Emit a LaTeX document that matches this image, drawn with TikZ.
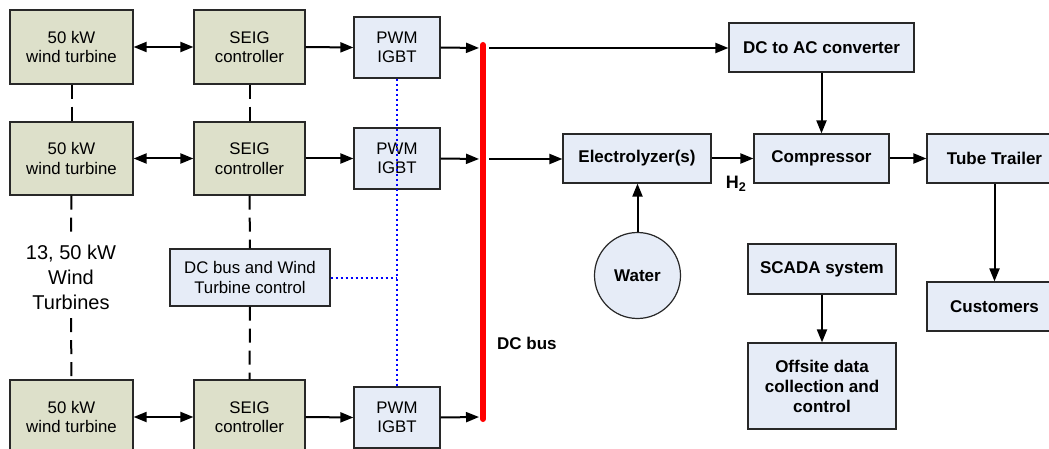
\documentclass[tikz,border=0pt]{standalone}
\usepackage{fontspec}
\setmainfont{Liberation Sans}
\usetikzlibrary{arrows.meta}
\definecolor{olivefill}{RGB}{221,224,202}
\definecolor{bluefill}{RGB}{230,236,247}
\definecolor{edge}{RGB}{40,40,40}
\begin{document}
\begin{tikzpicture}[x=1pt,y=-1pt,
  box/.style={draw=edge,line width=1.2pt,align=center,inner sep=0pt,
    font=\fontsize{16.8}{19.5}\selectfont},
  gbox/.style={box,fill=olivefill,minimum width=123pt,minimum height=74pt},
  sbox/.style={box,fill=olivefill,minimum width=111pt,minimum height=74pt},
  pbox/.style={box,fill=bluefill,minimum width=86pt,minimum height=61pt},
  bbox/.style={box,fill=bluefill,font=\fontsize{17}{20}\selectfont\bfseries},
  arr/.style={line width=2pt,-{Triangle[length=13pt,width=10pt]}},
  darr/.style={line width=2pt,{Triangle[length=13pt,width=10pt]}-{Triangle[length=13pt,width=10pt]}},
  dashline/.style={line width=2pt,dash pattern=on 14pt off 8pt},
  dotline/.style={line width=2pt,draw=blue,dash pattern=on 2pt off 3pt},
  busline/.style={line width=6pt,red,line cap=round}]
\clip (0,0) rectangle (1049,449);
\fill[white] (0,0) rectangle (1049,449);

% turbines
\node[gbox] (t1) at (71.5,47) {50 kW\\wind turbine};
\node[gbox,minimum height=73pt] (t2) at (71.5,158.5) {50 kW\\wind turbine};
\node[gbox] (t3) at (71.5,417) {50 kW\\wind turbine};
% SEIG
\node[sbox] (s1) at (249.5,47) {SEIG\\controller};
\node[sbox,minimum height=73pt] (s2) at (249.5,158.5) {SEIG\\controller};
\node[sbox] (s3) at (249.5,417) {SEIG\\controller};
% PWM
\node[pbox] (p1) at (397,47.5) {PWM\\IGBT};
\node[pbox] (p2) at (397,158.5) {PWM\\IGBT};
\node[pbox] (p3) at (397,417.5) {PWM\\IGBT};
% control
\node[box,fill=bluefill,minimum width=160pt,minimum height=57pt,
  font=\fontsize{16.8}{20}\selectfont] (ctrl) at (250,277.5) {DC bus and Wind\\Turbine control};
% label
\node[align=center,inner sep=0pt,minimum height=82pt,
  font=\fontsize{20}{25}\selectfont] (wtl) at (71,277) {13, 50 kW\\Wind\\Turbines};

% bus
\coordinate (busTop) at (483,45);
\coordinate (busBot) at (483,419);
\draw[busline] (busTop) -- (busBot);
\coordinate (b1) at (479,48);
\coordinate (b2) at (479,159);
\coordinate (b3) at (479,417);
\coordinate (r1) at (489,48);
\coordinate (r2) at (489,159);
\node[anchor=west,inner sep=0pt,font=\fontsize{17}{20}\selectfont\bfseries] (dcl) at (497,343) {DC bus};

% right side
\node[bbox,minimum width=185pt,minimum height=49pt] (dcac) at (821.5,47.5) {DC to AC converter};
\node[bbox,minimum width=148pt,minimum height=49pt] (elec) at (637,158.5) {Electrolyzer(s)};
\node[bbox,minimum width=135pt,minimum height=49pt] (comp) at (821.5,158.5) {Compressor};
\node[bbox,minimum width=135pt,minimum height=49pt] (tube) at (994.5,158.5) {Tube Trailer};
\node[bbox,minimum width=135pt,minimum height=49pt] (cust) at (994.5,306.5) {Customers};
\node[bbox,circle,minimum size=86pt] (water) at (637.5,275.5) {Water};
\node[bbox,minimum width=148pt,minimum height=50pt] (scada) at (822,269) {SCADA system};
\node[bbox,minimum width=148pt,minimum height=86pt] (off) at (822,386) {Offsite data\\collection and\\control};
\node[inner sep=0pt,font=\fontsize{18}{20}\selectfont\bfseries] (h2) at (736,184) {H\textsubscript{2}};

% connectors left
\foreach \i in {1,2,3}{
  \draw[darr] (t\i.east) -- (s\i.west);
  \draw[arr] (s\i.east) -- (p\i.west);
  \draw[arr] (p\i.east) -- (b\i);
}
\draw[dashline] (t1.south) -- (t2.north);
\draw[dashline] (t2.south) -- (wtl.north);
\draw[dashline] (wtl.south) -- (t3.north);
\draw[dashline] (s1.south) -- (s2.north);
\draw[dashline] (s2.south) -- (ctrl.north);
\draw[dashline] (ctrl.south) -- (s3.north);
\draw[dotline] (p1.south) -- (p3.north);
\draw[dotline] (ctrl.east) -- (ctrl.east -| p1.south);

% connectors right
\draw[arr] (r1) -- (r1 -| dcac.west);
\draw[arr] (r2) -- (r2 -| elec.west);
\draw[arr] (dcac.south) -- (comp.north);
\draw[arr] (elec.east) -- (comp.west);
\draw[arr] (comp.east) -- (tube.west);
\draw[arr] (water.north) -- (elec.south -| water.north);
\draw[arr] (tube.south) -- (cust.north);
\draw[arr] (scada.south) -- (off.north);
\end{tikzpicture}
\end{document}
